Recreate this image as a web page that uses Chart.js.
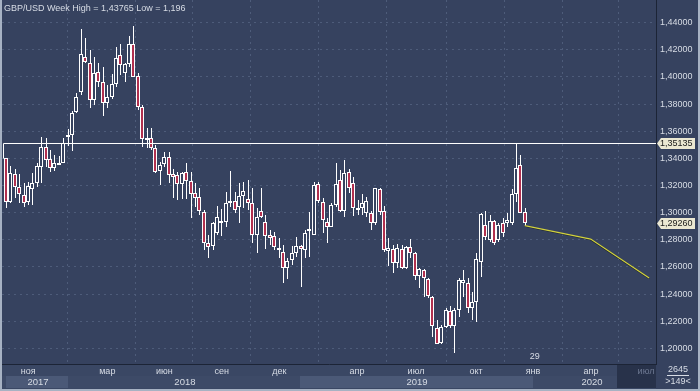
<!DOCTYPE html>
<html><head><meta charset="utf-8">
<script src="https://cdn.jsdelivr.net/npm/chart.js@4.4.1/dist/chart.umd.min.js"></script>
<style>html,body{margin:0;padding:0;background:#36435f;}#wrap{width:700px;height:391px;position:relative;}canvas{display:block;}</style>
</head><body><div id="wrap"><canvas id="c" width="700" height="391"></canvas></div>
<script>
// ---------- data ----------
const titleText = 'GBP/USD Week High = 1,43765 Low = 1,196';
const opens = [1.3400,1.3081,1.3285,1.3191,1.3130,1.3081,1.3171,1.3216,1.3334,1.3481,
1.3393,1.3326,1.3358,1.3368,1.3567,1.3572,1.3744,1.3891,1.4144,1.4100,
1.3830,1.4034,1.3965,1.3805,1.3855,1.3945,1.4162,1.4031,1.4095,1.4243,
1.4007,1.3776,1.3540,1.3547,1.3474,1.3309,1.3358,1.3412,1.3282,1.3278,
1.3209,1.3303,1.3234,1.3148,1.3114,1.3008,1.2774,1.2755,1.2853,1.2932,
1.2934,1.3083,1.3086,1.3040,1.3123,1.3099,1.3074,1.2836,1.3015,1.2929,
1.2836,1.2828,1.2738,1.2713,1.2590,1.2651,1.2706,1.2755,1.2725,1.2865,
1.2836,1.3212,1.3077,1.2934,1.2897,1.3057,1.3241,1.3012,1.3302,1.3221,
1.3031,1.3031,1.2995,1.2999,1.2921,1.3172,1.3012,1.2717,1.2732,1.2631,
1.2729,1.2589,1.2744,1.2700,1.2533,1.2577,1.2508,1.2380,1.2147,1.2036,
1.2154,1.2277,1.2164,1.2282,1.2485,1.2485,1.2294,1.2339,1.2638,1.2909,
1.2798,1.2941,1.2798,1.2921,1.2921,1.2921,1.3137,1.3351,1.3007];
const highs = [1.3402,1.3343,1.3321,1.3285,1.3216,1.3228,1.3289,1.3363,1.3560,1.3547,
1.3461,1.3425,1.3415,1.3547,1.3614,1.3751,1.3879,1.4351,1.4285,1.4199,
1.4149,1.4100,1.4071,1.3941,1.4022,1.4223,1.4243,1.4105,1.4302,1.4377,
1.4027,1.3793,1.3621,1.3621,1.3498,1.3376,1.3449,1.3449,1.3320,1.3303,
1.3303,1.3369,1.3298,1.3217,1.3180,1.3020,1.2836,1.2934,1.3050,1.3025,
1.3155,1.3308,1.3155,1.3222,1.3229,1.3241,1.3180,1.3033,1.3180,1.2983,
1.2873,1.2860,1.2811,1.2762,1.2664,1.2755,1.2824,1.2762,1.2873,1.3008,
1.3229,1.3229,1.3106,1.2959,1.3069,1.3364,1.3315,1.3388,1.3319,1.3265,
1.3093,1.3137,1.3112,1.3014,1.3184,1.3179,1.3049,1.2810,1.2761,1.2769,
1.2761,1.2754,1.2803,1.2712,1.2589,1.2582,1.2515,1.2385,1.2208,1.2172,
1.2294,1.2314,1.2294,1.2515,1.2577,1.2518,1.2417,1.2700,1.2995,1.3014,
1.2982,1.2945,1.2926,1.2958,1.2999,1.3172,1.3513,1.3425,1.3032];
const lows = [1.3032,1.3068,1.3105,1.3073,1.3044,1.3056,1.3056,1.3191,1.3221,1.3339,
1.3302,1.3309,1.3350,1.3363,1.3491,1.3457,1.3732,1.3867,1.4100,1.3769,
1.3793,1.3928,1.3714,1.3769,1.3837,1.3928,1.4014,1.3965,1.4076,1.3997,
1.3756,1.3486,1.3474,1.3461,1.3290,1.3203,1.3339,1.3216,1.3105,1.3094,
1.3099,1.3099,1.2959,1.3045,1.2983,1.2725,1.2664,1.2725,1.2836,1.2828,
1.2897,1.3045,1.2996,1.2927,1.3033,1.3020,1.2774,1.2701,1.2959,1.2730,
1.2762,1.2725,1.2664,1.2480,1.2510,1.2615,1.2676,1.2455,1.2669,1.2676,
1.2836,1.3069,1.2853,1.2774,1.2892,1.3045,1.3008,1.2966,1.3148,1.2975,
1.2982,1.2982,1.2970,1.2872,1.2909,1.2982,1.2712,1.2606,1.2557,1.2594,
1.2582,1.2582,1.2663,1.2503,1.2442,1.2380,1.2371,1.2086,1.2031,1.2031,
1.2147,1.2147,1.1963,1.2233,1.2380,1.2262,1.2208,1.2196,1.2528,1.2798,
1.2786,1.2761,1.2786,1.2823,1.2896,1.2909,1.3080,1.2995,1.2904];
const closes = [1.3080,1.3289,1.3191,1.3135,1.3073,1.3196,1.3221,1.3343,1.3481,1.3388,
1.3326,1.3363,1.3363,1.3511,1.3572,1.3732,1.3855,1.4167,1.4113,1.3830,
1.4031,1.3965,1.3805,1.3855,1.3945,1.4137,1.4088,1.4095,1.4243,1.4002,
1.3781,1.3540,1.3547,1.3474,1.3302,1.3351,1.3412,1.3277,1.3265,1.3209,
1.3290,1.3234,1.3138,1.3106,1.3013,1.2774,1.2750,1.2927,1.2966,1.2939,
1.3069,1.3088,1.3020,1.3123,1.3163,1.3074,1.2836,1.2966,1.2971,1.2828,
1.2811,1.2750,1.2730,1.2590,1.2647,1.2701,1.2755,1.2730,1.2848,1.2878,
1.3204,1.3086,1.2946,1.2897,1.3057,1.3209,1.3015,1.3294,1.3184,1.3031,
1.3024,1.3068,1.3086,1.2921,1.3179,1.3007,1.2724,1.2737,1.2626,1.2737,
1.2589,1.2749,1.2700,1.2533,1.2582,1.2515,1.2385,1.2164,1.2031,1.2154,
1.2282,1.2167,1.2282,1.2503,1.2503,1.2294,1.2339,1.2656,1.2990,1.2823,
1.2941,1.2773,1.2909,1.2847,1.2945,1.3137,1.3326,1.2999,1.2926];

const levelValue = 1.35135;     // horizontal level (period high)
const levelStartIdx = 0.32;
const lastPrice = 1.29260;
const forecastIdx = [119, 134, 147.3];
const forecastVals = [1.2905, 1.2806, 1.2519];

const monthLabels = ['ноя','мар','июн','сен','дек','апр','июл','окт','янв','апр','июл'];
const monthIdx = [6.07, 24.04, 37.0, 50.07, 63.17, 80.85, 94.27, 107.92, 120.89, 134.08, 146.59];
const yearLabels = ['2017','2018','2019','2020'];
const yearLabelIdx = [8.3, 41.7, 94.5, 134.3];
const yearBandFrom = [1.0, 15.17, 67.88, 120.89];
const yearBandTo = [15.17, 67.88, 120.89, 140.0];
const futureFromIdx = 140.0;
const cursorLabel = '29';
const cursorIdx = 121.3;
const barsTotal = '2645';
const barsVisible = '>149<';

const xMin = 0.09, xMax = 148.86;
const yMin = 1.18849, yMax = 1.45673;

// ---------- style ----------
const C = {
  plot: '#36425f', axisBg: '#3a4764', bandLight: '#4b5977', bandMid: '#3d4a67', future: '#28324a',
  axisLine: '#1c2436', grid: '#4e5c7a', text: '#d7dce5', dim: '#6d7891', frame: '#a7b2c3',
  red: '#b1304f', white: '#ffffff', yellow: '#d2d240', tag: '#ebe8d2'
};
const FONT = '"Liberation Sans", Arial, sans-serif';

const idx = opens.map((_, k) => k + 1);
const fills = opens.map((o, k) => closes[k] < o ? C.red : C.plot);

const snapPlugin = {
  id: 'snap',
  afterDatasetsUpdate(chart) {
    chart.data.datasets.forEach((ds, i) => {
      const meta = chart.getDatasetMeta(i);
      if (ds.type === 'bar') {
        const thin = ds.barThickness === 1;
        meta.data.forEach(el => {
          el.x = Math.round(el.x) + (thin ? 0.5 : 0);
          let t = Math.round(Math.min(el.y, el.base)), b = Math.round(Math.max(el.y, el.base));
          if (!thin && b - t < 2) b = t + 2;
          el.y = t; el.base = b;
        });
      } else if (ds.snap) {
        meta.data.forEach(el => { el.x = Math.round(el.x) + 0.5; el.y = Math.round(el.y) + 0.5; });
      }
    });
  }
};

const bgPlugin = {
  id: 'bg',
  beforeDraw(chart) {
    const { ctx, chartArea: a, scales: { x } } = chart;
    const W = chart.width, H = chart.height;
    ctx.save();
    ctx.fillStyle = C.plot; ctx.fillRect(0, 0, W, H);
    ctx.fillStyle = C.axisBg; ctx.fillRect(a.left, a.bottom, a.right - a.left, H - a.bottom);
    const yTop = a.bottom + 12, yBot = H - 3;
    ctx.fillStyle = C.bandMid; ctx.fillRect(a.left, yTop, a.right - a.left, yBot - yTop);
    yearBandFrom.forEach((f, k) => {
      if (k % 2 === 0) {
        const x0 = Math.round(x.getPixelForValue(f)), x1 = Math.round(x.getPixelForValue(yearBandTo[k]));
        ctx.fillStyle = C.bandLight; ctx.fillRect(x0, yTop, x1 - x0, yBot - yTop);
      }
    });
    const fx = Math.round(x.getPixelForValue(futureFromIdx));
    ctx.fillStyle = C.future; ctx.fillRect(fx, a.bottom, a.right - fx, yBot - a.bottom);
    ctx.restore();
  },
  afterDraw(chart) {
    const { ctx, chartArea: a, scales: { x, y } } = chart;
    const W = chart.width, H = chart.height;
    ctx.save();
    ctx.textBaseline = 'middle';
    ctx.fillStyle = C.text; ctx.textAlign = 'left';
    ctx.font = '9px ' + FONT;
    ctx.fillText(titleText, 4, 8.5);
    ctx.font = '9.5px ' + FONT; ctx.textAlign = 'center';
    yearLabels.forEach((t, k) => ctx.fillText(t, x.getPixelForValue(yearLabelIdx[k]), a.bottom + 18));
    ctx.font = '9px ' + FONT;
    ctx.fillText(cursorLabel, x.getPixelForValue(cursorIdx), a.bottom - 7);
    const cx = (a.right + W) / 2;
    ctx.fillText(barsTotal, cx, a.bottom + 6);
    ctx.fillText(barsVisible, cx, a.bottom + 18);
    ctx.strokeStyle = C.text; ctx.lineWidth = 1;
    ctx.beginPath(); ctx.moveTo(cx - 11, a.bottom + 11.5); ctx.lineTo(cx + 11, a.bottom + 11.5); ctx.stroke();
    [[levelValue], [lastPrice]].forEach(([v]) => {
      const py = Math.round(y.getPixelForValue(v)) + 0.5;
      const x0 = a.right + 1, x1 = W - 5;
      ctx.beginPath();
      ctx.moveTo(x0, py); ctx.lineTo(x0 + 4, py - 5.5); ctx.lineTo(x1, py - 5.5);
      ctx.lineTo(x1, py + 5.5); ctx.lineTo(x0 + 4, py + 5.5); ctx.closePath();
      ctx.fillStyle = C.tag; ctx.fill();
      ctx.fillStyle = '#1a1a1a'; ctx.textAlign = 'left';
      ctx.fillText(v.toFixed(5).replace('.', ','), x0 + 3, py + 0.5);
    });
    ctx.fillStyle = C.frame;
    ctx.fillRect(0, 0, 2, H); ctx.fillRect(0, H - 2, W, 2); ctx.fillRect(W - 2, 0, 2, H);
    ctx.restore();
  }
};

const noPad = s => { s.paddingTop = 0; s.paddingBottom = 0; s.paddingLeft = 0; s.paddingRight = 0; };

new Chart(document.getElementById('c'), {
  data: {
    datasets: [
      { type: 'line', snap: true, data: [{ x: levelStartIdx, y: highs[0] }, { x: levelStartIdx, y: levelValue }, { x: xMax, y: levelValue }],
        borderColor: C.white, borderWidth: 1, pointRadius: 0, order: 0 },
      { type: 'line', data: forecastIdx.map((v, k) => ({ x: v, y: forecastVals[k] })),
        borderColor: C.yellow, borderWidth: 1.3, pointRadius: 0, order: 1 },
      { type: 'line', data: forecastIdx.map((v, k) => ({ x: v, y: forecastVals[k] - 0.0004 })),
        borderColor: 'rgba(18,22,20,0.75)', borderWidth: 1.5, pointRadius: 0, order: 2 },
      { type: 'bar', data: idx.map((v, k) => ({ x: v, y: [opens[k], closes[k]] })),
        barThickness: 4, backgroundColor: fills, borderColor: C.white, borderWidth: 1, borderSkipped: false,
        inflateAmount: 0, grouped: false, order: 3 },
      { type: 'bar', data: idx.map((v, k) => ({ x: v, y: [lows[k], highs[k]] })),
        barThickness: 1, backgroundColor: C.white, borderWidth: 0, inflateAmount: 0, grouped: false, order: 4 }
    ]
  },
  options: {
    responsive: false, animation: false, events: [],
    layout: { padding: { left: 2, right: 0, top: 0, bottom: 2 } },
    plugins: { legend: { display: false }, tooltip: { enabled: false } },
    scales: {
      x: {
        type: 'linear', min: xMin, max: xMax, offset: false, position: 'bottom',
        afterBuildTicks: s => { s.ticks = monthIdx.map(v => ({ value: v })); },
        afterFit: s => { s.height = 25; noPad(s); },
        grid: { color: C.grid, drawTicks: false, lineWidth: 1 },
        border: { display: true, color: C.axisLine, width: 1, dash: [2, 4] },
        ticks: {
          autoSkip: false, maxRotation: 0, padding: 2,
          font: { family: FONT, size: 9 },
          color: c => c.index === monthLabels.length - 1 ? C.dim : C.text,
          callback: (v, i) => monthLabels[i]
        }
      },
      y: {
        type: 'linear', position: 'right', min: yMin, max: yMax,
        afterFit: s => { s.width = 44; noPad(s); },
        grid: { color: C.grid, drawTicks: false, lineWidth: 1 },
        border: { display: true, color: C.axisLine, width: 1, dash: [2, 4] },
        ticks: {
          stepSize: 0.02, includeBounds: false, padding: 4,
          font: { family: FONT, size: 9 }, color: C.text,
          callback: v => v.toFixed(5).replace('.', ',')
        }
      }
    }
  },
  plugins: [snapPlugin, bgPlugin]
});
</script>
</body></html>
